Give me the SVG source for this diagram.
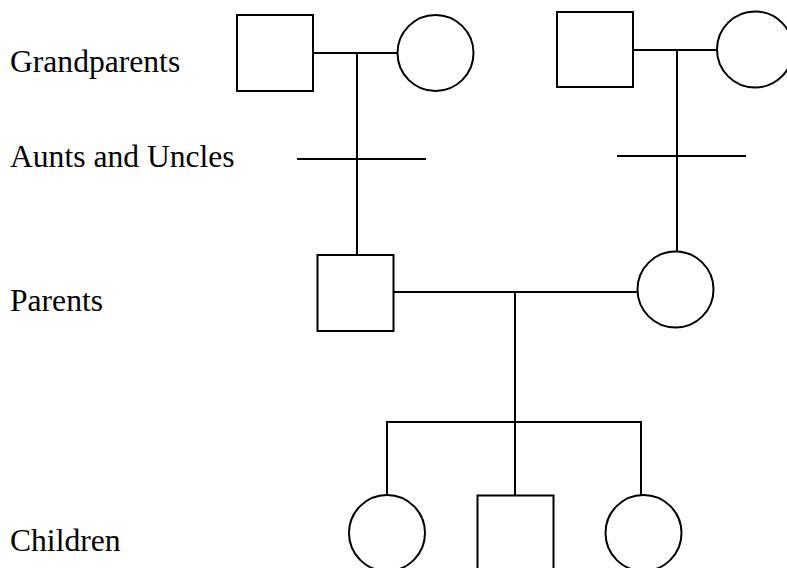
<svg xmlns="http://www.w3.org/2000/svg" width="787" height="568" viewBox="0 0 787 568">
<style>
.s{fill:#fff;stroke:#000;stroke-width:2}
.c line{stroke:#000;stroke-width:2}
text{font-family:"Liberation Serif","Times New Roman",serif;font-size:31.6px;fill:#000}
</style>
<rect width="787" height="568" fill="#fff"/>
<g id="labels">
<text x="10" y="72">Grandparents</text>
<text x="10" y="167">Aunts and Uncles</text>
<text x="10" y="311">Parents</text>
<text x="10" y="551">Children</text>
</g>
<g class="c" id="connectors">
<line x1="313" y1="53" x2="397" y2="53"/>
<line x1="357" y1="53" x2="357" y2="255"/>
<line x1="297" y1="159" x2="426" y2="159"/>
<line x1="633" y1="50" x2="717" y2="50"/>
<line x1="677" y1="50" x2="677" y2="252"/>
<line x1="617" y1="156" x2="746" y2="156"/>
<line x1="393" y1="292" x2="638" y2="292"/>
<line x1="515" y1="292" x2="515" y2="495"/>
<line x1="386" y1="422" x2="642" y2="422"/>
<line x1="387" y1="422" x2="387" y2="495"/>
<line x1="641" y1="422" x2="641" y2="495"/>
</g>
<g id="gp1-father"><rect class="s" x="237" y="15" width="76" height="76"/></g>
<g id="gp1-mother"><circle class="s" cx="435.5" cy="53" r="38"/></g>
<g id="gp2-father"><rect class="s" x="557" y="12" width="76" height="75"/></g>
<g id="gp2-mother"><circle class="s" cx="755" cy="49.5" r="38"/></g>
<g id="father"><rect class="s" x="317.5" y="255" width="76" height="76"/></g>
<g id="mother"><circle class="s" cx="675.5" cy="289.5" r="38"/></g>
<g id="child1"><circle class="s" cx="387" cy="533" r="38"/></g>
<g id="child2"><rect class="s" x="477.5" y="495.5" width="76" height="80"/></g>
<g id="child3"><circle class="s" cx="643.5" cy="533" r="38"/></g>
</svg>
